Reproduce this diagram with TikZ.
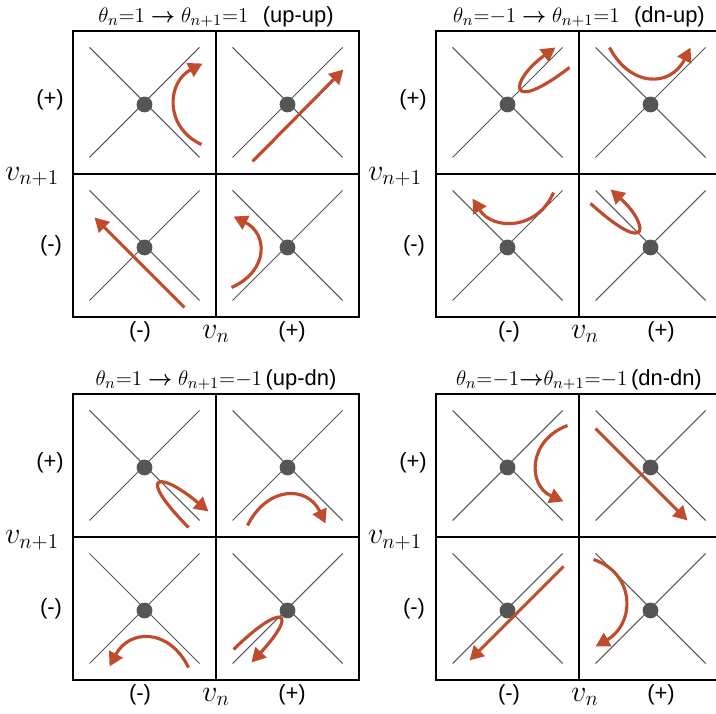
\documentclass[tikz,border=0pt]{standalone}
\usepackage{amsmath}
\usepackage{fontspec}
\newfontfamily\labelfont{Liberation Sans}
\usetikzlibrary{arrows.meta}
\definecolor{rust}{RGB}{192,76,46}
\definecolor{xgray}{RGB}{85,85,85}
\tikzset{
  frame/.style={line width=1.4pt},
  xline/.style={xgray, line width=0.6pt},
  fixpt/.style={circle, fill=xgray, inner sep=0pt, minimum size=9pt},
  flow/.style={rust, line width=1.8pt, -{Triangle[length=8pt,width=8.5pt]}},
  sgn/.style={font=\labelfont\fontsize{12.5}{14}\selectfont},
  ttl/.style={inner sep=0pt, font=\fontsize{12.5}{14}\selectfont},
  axis/.style={font=\fontsize{17}{19}\selectfont},
}
\begin{document}
\begin{tikzpicture}[x=0.02cm, y=0.02cm]
  \useasboundingbox (0,0) rectangle (716,713);
  \clip (0,0) rectangle (716,713);

  % four panels: name / centre / shift of the bottom labels / title
  \foreach \p/\cx/\cy/\dx/\ttext in {
      A/216/539/0/{$\theta_n{=}1 \boldsymbol{\rightarrow} \theta_{n+1}{=}1$\ \ {\labelfont(up-up)}},
      B/579/539/6/{$\theta_n{=}{-}1 \boldsymbol{\rightarrow} \theta_{n+1}{=}1$\ \ {\labelfont(dn-up)}},
      C/216/176/0/{$\theta_n{=}1 \boldsymbol{\rightarrow} \theta_{n+1}{=}{-}1$\,{\labelfont(up-dn)}},
      D/579/176/6/{$\theta_n{=}{-}1{\boldsymbol{\rightarrow}}\theta_{n+1}{=}{-}1$\,{\labelfont(dn-dn)}}}{
    \begin{scope}[shift={(\cx,\cy)}]
      \foreach \i/\sx in {1/-71.5, 2/71.5}
        \foreach \j/\sy in {1/71.5, 2/-71.5}{
          \draw[xline] (\sx-55,\sy-55) -- (\sx+55,\sy+55);
          \draw[xline] (\sx-55,\sy+55) -- (\sx+55,\sy-55);
          \node[fixpt] (\p\j\i) at (\sx,\sy-2) {};
        }
      \draw[frame] (-143,-143) rectangle (143,143);
      \draw[frame] (0,-143) -- (0,143) (-143,0) -- (143,0);

      \node[ttl] (\p-title) at (0,157) {\ttext};
      \node[sgn] (\p-yp) at (-166,74) {(+)};
      \node[sgn] (\p-ym) at (-165,-72) {(-)};
      \node[axis] (\p-y) at (-184,-3) {$v_{n+1}$};
      \node[sgn] (\p-xm) at (-76+\dx,-158) {(-)};
      \node[axis] (\p-x) at (\dx,-160) {$v_n$};
      \node[sgn] (\p-xp) at (76+\dx,-158) {(+)};
    \end{scope}
  }

  % up-up
  \draw[flow, shift={(A11)}] (57,-40) .. controls (20,-23) and (22,22) .. (58,41);
  \draw[flow, shift={(A12)}] (-35,-57) -- (56,35);
  \draw[flow, shift={(A21)}] (40,-60) -- (-50,30);
  \draw[flow, shift={(A22)}] (-56,-40) .. controls (-18,-23) and (-20,14) .. (-54,31);
  % dn-up
  \draw[flow, shift={(B11)}] (62,37) .. controls (-2,-12) and (2,24) .. (48,57);
  \draw[flow, shift={(B12)}] (-41,57) .. controls (-20,17) and (20,17) .. (40,57);
  \draw[flow, shift={(B21)}] (46,55) .. controls (30,17) and (-15,17) .. (-35,49);
  \draw[flow, shift={(B22)}] (-60,44) .. controls (2,-12) and (-2,24) .. (-40,58);
  % up-dn
  \draw[flow, shift={(C11)}] (44,-60) .. controls (-10,-5) and (15,-3) .. (64,-44);
  \draw[flow, shift={(C12)}] (-40,-58) .. controls (-20,-18) and (20,-18) .. (38,-56);
  \draw[flow, shift={(C21)}] (44,-57) .. controls (25,-18) and (-15,-18) .. (-35,-56);
  \draw[flow, shift={(C22)}] (-54,-39) .. controls (-5,9) and (12,0) .. (-36,-52);
  % dn-dn
  \draw[flow, shift={(D11)}] (60,42) .. controls (20,27) and (20,-18) .. (56,-34);
  \draw[flow, shift={(D12)}] (-55,39) -- (37,-53);
  \draw[flow, shift={(D21)}] (56,44) -- (-38,-50);
  \draw[flow, shift={(D22)}] (-57,51) .. controls (-15,37) and (-15,-13) .. (-55,-36);
\end{tikzpicture}
\end{document}
